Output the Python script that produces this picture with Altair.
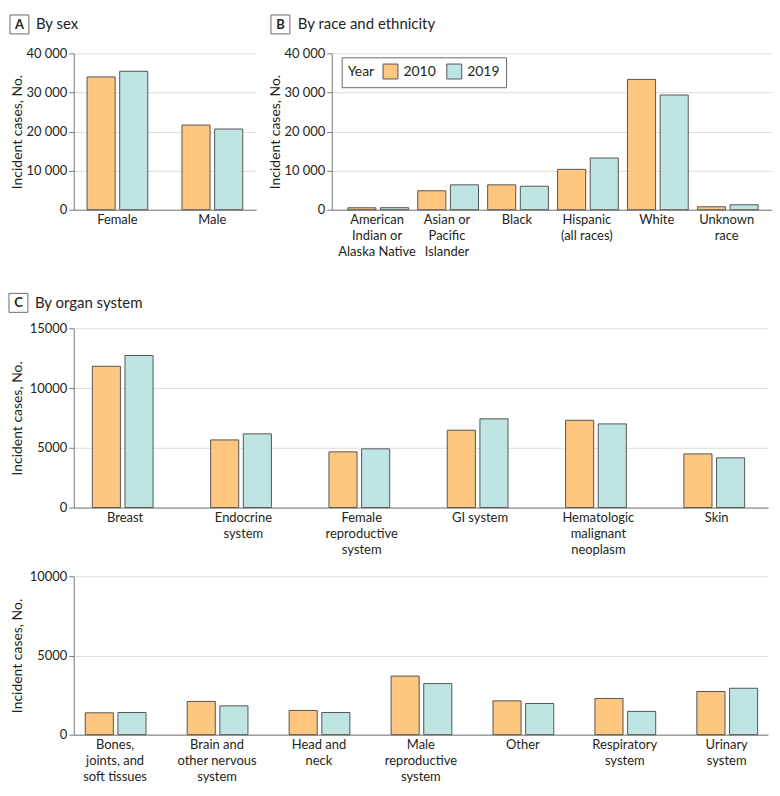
import altair as alt
import pandas as pd

YEARS = ["2010", "2019"]
COLORS = ["#FFC680", "#BFE5E3"]

# Panel A: by sex
sex_cats = ["Female", "Male"]
sex_2010 = [33970, 21660]
sex_2019 = [35410, 20640]

# Panel B: by race and ethnicity ("|" marks a line break in the tick label)
race_cats = ["American|Indian or|Alaska Native", "Asian or|Pacific|Islander", "Black",
             "Hispanic|(all races)", "White", "Unknown|race"]
race_2010 = [500, 4840, 6370, 10330, 33330, 760]
race_2019 = [520, 6370, 6010, 13230, 29340, 1270]

# Panel C (upper): by organ system
org1_cats = ["Breast", "Endocrine|system", "Female|reproductive|system", "GI system",
             "Hematologic|malignant|neoplasm", "Skin"]
org1_2010 = [11820, 5660, 4660, 6470, 7300, 4490]
org1_2019 = [12720, 6165, 4910, 7420, 7000, 4160]

# Panel C (lower)
org2_cats = ["Bones,|joints, and|soft tissues", "Brain and|other nervous|system", "Head and|neck",
             "Male|reproductive|system", "Other", "Respiratory|system", "Urinary|system"]
org2_2010 = [1380, 2100, 1530, 3700, 2135, 2285, 2725]
org2_2019 = [1400, 1820, 1400, 3225, 1970, 1470, 2930]

FONT = "Lato"
TXT = "#231f20"


def long(cats, v10, v19):
    rows = []
    for c, a, b in zip(cats, v10, v19):
        rows.append({"cat": c, "year": "2010", "value": a})
        rows.append({"cat": c, "year": "2019", "value": b})
    return pd.DataFrame(rows)


def header(letter, text, bx, by, tx):
    base = alt.Chart(alt.Data(values=[{"k": 1}]))
    box = base.mark_rect(fill="white", stroke="#6b6b6b", strokeWidth=1).encode(
        x=alt.value(bx), x2=alt.value(bx + 19), y=alt.value(by), y2=alt.value(by + 19))
    let = base.mark_text(font=FONT, fontWeight="bold", fontSize=13, align="center",
                         baseline="middle", color=TXT).encode(
        x=alt.value(bx + 9.5), y=alt.value(by + 10), text=alt.value(letter))
    ttl = base.mark_text(font=FONT, fontSize=15, align="left", baseline="middle",
                         color=TXT).encode(
        x=alt.value(tx), y=alt.value(by + 9.5), text=alt.value(text))
    return [box, let, ttl]


def panel(cats, v10, v19, width, height, ymax, ystep, p_in, p_out, hdr, space_fmt, legend):
    df = long(cats, v10, v19)
    if space_fmt:
        lab = "replace(format(datum.value, ','), ',', ' ')"
    else:
        lab = "format(datum.value, 'd')"
    yaxis = alt.Axis(values=list(range(0, ymax + 1, ystep)), labelExpr=lab,
                     title="Incident cases, No.", tickSize=5, labelPadding=2,
                     titleX=-52, titleBaseline="alphabetic")
    xaxis = alt.Axis(title=None, labelExpr="split(datum.value, '|')", labelAngle=0,
                     ticks=False, labelPadding=4, labelLineHeight=16, grid=False)
    bars = alt.Chart(df).mark_bar(stroke="#555555", strokeWidth=1).encode(
        x=alt.X("cat:N", sort=cats, axis=xaxis,
                scale=alt.Scale(paddingInner=p_in, paddingOuter=p_out)),
        xOffset=alt.XOffset("year:N", sort=YEARS,
                            scale=alt.Scale(paddingInner=0.14, paddingOuter=0)),
        y=alt.Y("value:Q", axis=yaxis, scale=alt.Scale(domain=[0, ymax], nice=False)),
        color=alt.Color("year:N", scale=alt.Scale(domain=YEARS, range=COLORS),
                        legend=legend),
    )
    return alt.layer(bars, *hdr).properties(width=width, height=height)


legendB = alt.Legend(title="Year", orient="none", legendX=10, legendY=4,
                     direction="horizontal", titleOrient="left", symbolType="square",
                     symbolSize=225, symbolStrokeColor="#555555", symbolStrokeWidth=1,
                     labelFontSize=14, titleFontSize=14, titleFontWeight="normal",
                     padding=6, strokeColor="#6b6b6b", fillColor="white",
                     columnPadding=8, labelOffset=5, titlePadding=8,
                     labelFont=FONT, titleFont=FONT, labelColor=TXT, titleColor=TXT)

A = panel(sex_cats, sex_2010, sex_2019, 183, 157, 40000, 10000, 0.36, 0.14,
          header("A", "By sex", -64, -38.5, -38), True, None)
B = panel(race_cats, race_2010, race_2019, 442, 157, 40000, 10000, 0.163, 0.23,
          header("B", "By race and ethnicity", -61, -38.5, -34), True, legendB)
C1 = panel(org1_cats, org1_2010, org1_2019, 697, 180, 15000, 5000, 0.446, 0.157,
           header("C", "By organ system", -65, -35, -39), False, None)
C2 = panel(org2_cats, org2_2010, org2_2019, 697, 159, 10000, 5000, 0.415, 0.113,
           [], False, None)

top = alt.hconcat(A, B, spacing=13).resolve_scale(color="independent")
mid = alt.vconcat(C1, C2, spacing=14).resolve_scale(color="independent")
chart = alt.vconcat(top, mid, spacing=34).resolve_scale(color="independent").properties(
    padding={"left": 0, "top": 5, "right": 0, "bottom": 0}
).configure(font=FONT).configure_view(stroke=None).configure_axis(
    labelFont=FONT, titleFont=FONT, labelFontSize=13, titleFontSize=14,
    titleFontWeight="normal", labelColor=TXT, titleColor=TXT,
    domainColor="#7a7a7a", tickColor="#7a7a7a", gridColor="#dddddd", gridWidth=1,
)

chart.save("out.html", embed_options={"renderer": "svg", "actions": False})
